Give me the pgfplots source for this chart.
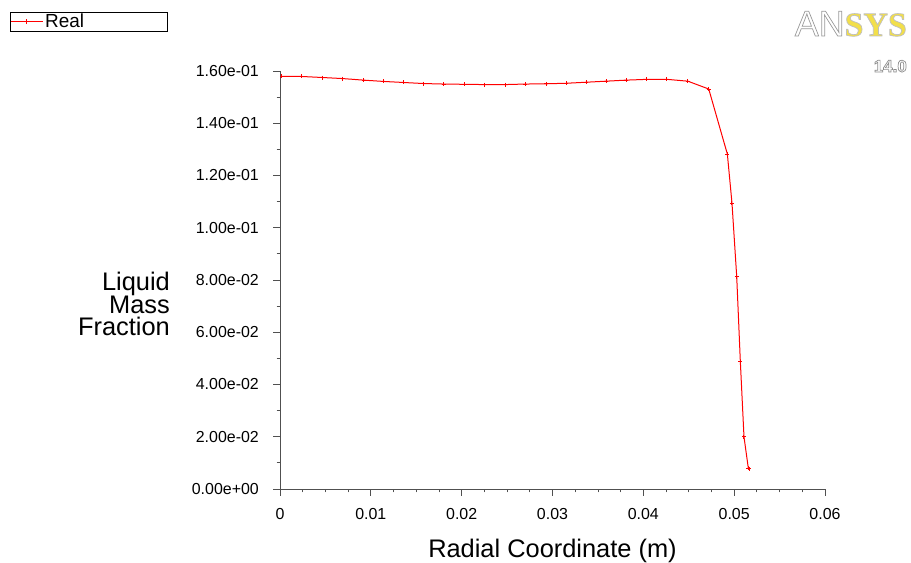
\documentclass[border=0pt]{standalone}
\usepackage{pgfplots}
\pgfplotsset{compat=1.18}
\usepackage{fontspec}
\setmainfont{Liberation Sans}
\newfontfamily\serifb{Liberation Serif}
\definecolor{axgray}{HTML}{505050}
\definecolor{ansysyellow}{HTML}{F2DF4A}
\newcommand\outlined[2]{\special{pdf:literal direct q #1 RG 2 Tr 0.7 w}#2\special{pdf:literal direct Q}}
\begin{document}
\begin{tikzpicture}[x=1bp,y=1bp]
\path (0,0) rectangle (911,561);
\node[anchor=base east,inner sep=0pt,font=\fontsize{34}{34}\selectfont] at (907,525)
  {\textcolor{white}{\outlined{0.6 0.6 0.6}{\fontsize{36}{36}\selectfont AN}}\textcolor{ansysyellow}{\outlined{0.75 0.75 0.75}{\serifb\bfseries SYS}}};
\node[anchor=base east,inner sep=0pt,font=\fontsize{17}{17}\selectfont\bfseries,text=white] at (907,489) {\outlined{0.55 0.55 0.55}{14.0}};
\begin{axis}[
  at={(280bp,72bp)}, anchor=origin,
  scale only axis, width=545bp, height=418bp,
  xmin=0, xmax=0.06, ymin=0, ymax=0.16,
  scaled x ticks=false, scaled y ticks=false,
  axis x line*=bottom, axis y line*=left,
  axis line style={axgray, line width=0.8bp},
  every tick/.style={axgray, line width=0.8bp},
  tick align=outside,
  major tick length=7bp, minor tick length=3.5bp,
  xtick={0,0.01,0.02,0.03,0.04,0.05,0.06},
  xticklabels={0,0.01,0.02,0.03,0.04,0.05,0.06},
  ytick={0,0.02,0.04,0.06,0.08,0.1,0.12,0.14,0.16},
  yticklabels={0.00e+00,2.00e-02,4.00e-02,6.00e-02,8.00e-02,1.00e-01,1.20e-01,1.40e-01,1.60e-01},
  minor x tick num=3, minor y tick num=1,
  tick label style={font=\fontsize{16}{16}\selectfont},
  xticklabel style={inner sep=0pt, yshift=-12bp},
  yticklabel style={inner sep=0pt, xshift=-14bp},
  xlabel={Radial Coordinate (m)},
  every axis x label/.style={at={(axis description cs:0.5,-0.1627)}, anchor=base, inner sep=0pt, font=\fontsize{25.5}{25.5}\selectfont},
  ylabel={Liquid\\Mass\\Fraction},
  every axis y label/.style={at={(axis description cs:-0.2018,0.4426)}, anchor=east, align=right, inner sep=0pt, font=\fontsize{25.5}{23}\selectfont},
  legend style={at={(axis description cs:-0.4954,1.1411)}, anchor=north west,
    font=\fontsize{19}{19}\selectfont, inner sep=0pt, outer sep=0pt,
    draw=black, line width=0.8bp},
  legend cell align=left,
  legend image code/.code={%
    \draw[draw=red, line width=1.2bp] (0bp,0bp) -- (32bp,0bp);
    \draw[draw=red, line width=1.2bp] (14bp,0bp) -- (18bp,0bp) (16bp,-2.5bp) -- (16bp,2.5bp);},
  clip=false,
]
\addplot[red, draw=red, line width=1bp, mark=+, mark size=2bp, mark options={line width=1bp, draw=red}] coordinates {
(0.0002,0.1579)(0.0024,0.1579)(0.0047,0.1575)(0.0069,0.1571)(0.0092,0.1565)
(0.0114,0.1560)(0.0136,0.1556)(0.0158,0.1552)(0.0180,0.1550)(0.0203,0.1549)
(0.0225,0.1548)(0.0248,0.1548)(0.0270,0.1550)(0.0293,0.1551)(0.0315,0.1553)
(0.0337,0.1557)(0.0359,0.1561)(0.0381,0.1565)(0.0404,0.1568)(0.0426,0.1568)
(0.0449,0.1561)(0.0472,0.1531)(0.04925,0.1282)(0.04976,0.1094)(0.05028,0.0813)
(0.05068,0.0487)(0.05108,0.0200)(0.05156,0.0079)(0.05168,0.0078)
};
\addlegendentry{\makebox[120bp][l]{Real}}
\end{axis}
\end{tikzpicture}
\end{document}
